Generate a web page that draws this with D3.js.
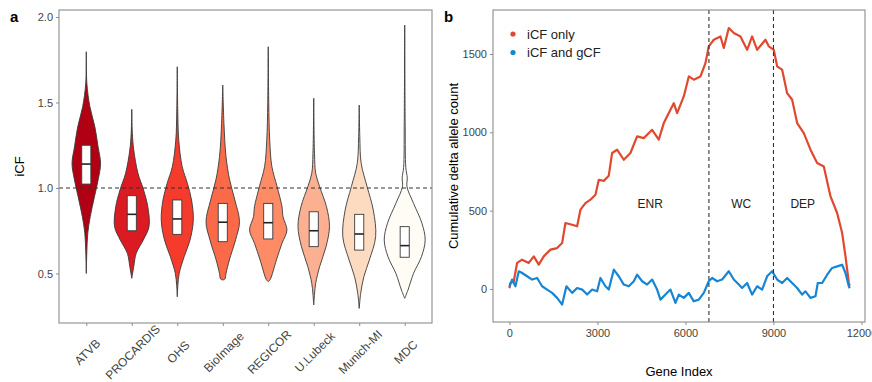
<!DOCTYPE html>
<html>
<head>
<meta charset="utf-8">
<script src="https://cdn.jsdelivr.net/npm/d3@7"></script>
<style>
  body { margin: 0; background: #fff; }
  text { font-family: "Liberation Sans", Arial, Helvetica, sans-serif; }
</style>
</head>
<body>
<svg id="chart" width="872" height="382"></svg>
<script>
// ---- panel a: violins ----
const sites = ['ATVB', 'PROCARDIS', 'OHS', 'BioImage', 'REGICOR', 'U.Lubeck', 'Munich-MI', 'MDC']
const siteColors = ['#B10013', '#DC1A22', '#F53B2C', '#FA6A48', '#FC8B66', '#FCB092', '#FDDBC0', '#FFFCF6']
// [q1, median, q3]
const boxStats = [
  [1.023, 1.14, 1.25],
  [0.75, 0.846, 0.955],
  [0.729, 0.819, 0.93],
  [0.686, 0.80, 0.91],
  [0.702, 0.797, 0.91],
  [0.657, 0.75, 0.861],
  [0.637, 0.731, 0.846],
  [0.595, 0.663, 0.774]
]
// [iCF, density]
const densATVB = [[0.50, 0], [0.62, 0.5], [0.735, 1.5], [0.832, 4], [0.949, 8.3], [1.047, 12], [1.144, 14.5], [1.24, 12], [1.358, 8.7], [1.475, 3.7], [1.61, 0.6], [1.797, 0]]
const densPROCARDIS = [[0.472, 0], [0.54, 2], [0.618, 4.5], [0.696, 11.7], [0.774, 17.5], [0.89, 16.3], [0.988, 12], [1.086, 6.3], [1.222, 2], [1.32, 0.6], [1.46, 0]]
const densOHS = [[0.364, 0], [0.43, 0.6], [0.501, 2], [0.598, 7], [0.696, 13], [0.813, 16.3], [0.93, 14.5], [1.027, 10.3], [1.125, 5], [1.28, 1.5], [1.45, 0.5], [1.709, 0]]
const densBioImage = [[0.462, 0], [0.468, 2.2], [0.50, 3.3], [0.579, 6.7], [0.696, 13], [0.803, 17], [0.93, 12.3], [1.047, 7], [1.183, 3.3], [1.378, 1.2], [1.602, 0]]
const densREGICOR = [[0.452, 0], [0.465, 2], [0.579, 8.3], [0.677, 14], [0.754, 19], [0.832, 15], [0.89, 14], [1.008, 9], [1.125, 3.7], [1.28, 1.5], [1.5, 0.5], [1.826, 0]]
const densULubeck = [[0.316, 0], [0.38, 0.8], [0.443, 2], [0.54, 6], [0.657, 12.5], [0.774, 16], [0.89, 13], [1.008, 6], [1.086, 2], [1.2, 0.8], [1.525, 0]]
const densMunich = [[0.296, 0], [0.384, 1.5], [0.481, 4.7], [0.579, 10.3], [0.715, 16.7], [0.871, 14.3], [1.008, 8], [1.144, 2], [1.3, 0.6], [1.485, 0]]
const densMDC = [[0.355, 0], [0.403, 3.3], [0.501, 9], [0.598, 17], [0.696, 20.8], [0.794, 17.5], [0.91, 9], [1.008, 2.3], [1.06, 2.6], [1.12, 1.1], [1.358, 0.5], [1.953, 0]]
const densities = [densATVB, densPROCARDIS, densOHS, densBioImage, densREGICOR, densULubeck, densMunich, densMDC]
const icfTicks = [0.5, 1.0, 1.5, 2.0]

// ---- panel b: cumulative counts, [gene index, count] ----
const iCFonly = [[0, 5], [34, 38], [148, 49], [261, 166], [432, 187], [659, 166], [830, 208], [1000, 155], [1170, 208], [1398, 251], [1625, 261], [1796, 293], [1909, 421], [2137, 410], [2307, 400], [2421, 506], [2591, 548], [2762, 570], [2932, 602], [3046, 697], [3216, 690], [3386, 723], [3500, 868], [3671, 889], [3898, 825], [4125, 868], [4352, 974], [4579, 963], [4864, 1016], [5091, 953], [5261, 1059], [5488, 1144], [5602, 1186], [5716, 1123], [5943, 1229], [6114, 1357], [6284, 1336], [6512, 1357], [6682, 1442], [6795, 1549], [6966, 1591], [7193, 1612], [7307, 1538], [7477, 1666], [7648, 1634], [7875, 1612], [8102, 1527], [8272, 1612], [8443, 1527], [8727, 1591], [8840, 1549], [9011, 1527], [9125, 1421], [9296, 1400], [9466, 1250], [9637, 1208], [9807, 1059], [10034, 995], [10262, 889], [10489, 804], [10716, 782], [10944, 591], [11170, 485], [11341, 357], [11455, 208], [11569, 38], [11600, 20]]
const iCFgCF = [[0, 17], [91, 60], [205, 17], [318, 113], [432, 102], [602, 81], [773, 60], [943, 70], [1114, 17], [1284, -4], [1455, -25], [1625, -57], [1796, -100], [1943, 17], [2137, -25], [2307, 6], [2478, -4], [2648, -36], [2819, -4], [2989, -15], [3102, 70], [3273, 17], [3386, -4], [3557, 123], [3727, 81], [3898, 28], [4068, 17], [4239, 49], [4352, 91], [4523, 49], [4693, 28], [4864, 60], [5034, -4], [5148, -68], [5318, -36], [5488, -4], [5659, -89], [5773, -36], [5943, -57], [6114, -25], [6284, -79], [6455, -68], [6625, -25], [6795, 49], [6909, 70], [7080, 49], [7250, 60], [7477, 113], [7648, 60], [7818, 28], [7932, 6], [8102, 38], [8272, -36], [8443, 17], [8613, -4], [8784, 81], [8954, 113], [9125, 60], [9296, 38], [9466, 70], [9637, 38], [9807, 6], [9977, -36], [10091, -15], [10262, -57], [10432, -47], [10511, 38], [10659, 38], [10830, 91], [11000, 134], [11170, 144], [11341, 155], [11455, 102], [11569, 17], [11600, 5]]
const regionBreaks = [6800, 9000]
const regionLabels = [['ENR', 4800], ['WC', 7900], ['DEP', 10000]]
const seriesNames = ['iCF only', 'iCF and gCF']
const seriesColors = ['#E1492F', '#1585D4']
const geneTicks = [0, 3000, 6000, 9000, 12000]
const countTicks = [0, 500, 1000, 1500]

const svg = d3.select('#chart')
const axisGrey = '#8c8c8c'
const tickText = '#444'

function styleAxis(g) {
  g.select('.domain').remove()
  g.selectAll('.tick line').attr('stroke', axisGrey)
  g.selectAll('.tick text').attr('fill', tickText).style('font-size', '11px')
}

// ===== panel a =====
const a = { left: 59, right: 432, top: 10, bottom: 323 }
const x = d3.scalePoint().domain(sites).range([a.left, a.right]).padding(0.6)
const y = d3.scaleLinear().domain([0.2105, 2.041]).range([a.bottom, a.top])
const step = x.step()
const wScale = d3.scaleLinear().domain([0, 20.8]).range([0, step * 0.45])

const ga = svg.append('g')

ga.append('g')
  .attr('transform', `translate(${a.left},0)`)
  .call(d3.axisLeft(y).tickValues(icfTicks).tickFormat(d3.format('.1f')).tickSize(3).tickPadding(3))
  .call(styleAxis)

ga.append('g')
  .attr('transform', `translate(0,${a.bottom})`)
  .call(d3.axisBottom(x).tickSize(3).tickFormat(''))
  .call(styleAxis)

// rotated site names, centred under each tick
ga.selectAll('.site-label')
  .data(sites)
  .enter()
  .append('text')
  .attr('class', 'site-label')
  .attr('transform', d => `translate(${x(d) + 1},${a.bottom + 29}) rotate(-45)`)
  .attr('text-anchor', 'middle')
  .attr('dy', '0.35em')
  .attr('fill', tickText)
  .style('font-size', '12px')
  .text(d => d)

const violinArea = d3.area()
  .curve(d3.curveCatmullRom)

sites.forEach((s, i) => {
  const cx = x(s)
  violinArea
    .x0(d => cx - wScale(d[1]))
    .x1(d => cx + wScale(d[1]))
    .y(d => y(d[0]))
  ga.append('path')
    .datum(densities[i])
    .attr('d', violinArea)
    .attr('fill', siteColors[i])
    .attr('stroke', '#3a3a3a')
    .attr('stroke-width', 0.9)

  const [q1, med, q3] = boxStats[i]
  const bw = step * 0.1
  ga.append('rect')
    .attr('x', cx - bw)
    .attr('width', bw * 2)
    .attr('y', y(q3))
    .attr('height', y(q1) - y(q3))
    .attr('fill', '#fff')
    .attr('stroke', '#3a3a3a')
    .attr('stroke-width', 0.9)
  ga.append('line')
    .attr('x1', cx - bw).attr('x2', cx + bw)
    .attr('y1', y(med)).attr('y2', y(med))
    .attr('stroke', '#222')
    .attr('stroke-width', 1.6)
})

ga.append('line')
  .attr('x1', a.left).attr('x2', a.right)
  .attr('y1', y(1)).attr('y2', y(1))
  .attr('stroke', '#333')
  .attr('stroke-width', 1.1)
  .attr('stroke-dasharray', '4,3')

ga.append('rect')
  .attr('x', a.left).attr('y', a.top)
  .attr('width', a.right - a.left).attr('height', a.bottom - a.top)
  .attr('fill', 'none')
  .attr('stroke', axisGrey)
  .attr('stroke-width', 1.1)

ga.append('text')
  .attr('transform', `translate(24,${(a.top + a.bottom) / 2}) rotate(-90)`)
  .attr('text-anchor', 'middle')
  .style('font-size', '13px')
  .text('iCF')

svg.append('text').attr('x', 10).attr('y', 22)
  .style('font-size', '15px').style('font-weight', 'bold').text('a')

// ===== panel b =====
const b = { left: 493, right: 865, top: 10, bottom: 322 }
const xb = d3.scaleLinear().domain([-560, 12120]).range([b.left, b.right])
const yb = d3.scaleLinear().domain([-211, 1781]).range([b.bottom, b.top])

const gb = svg.append('g')

gb.append('g')
  .attr('transform', `translate(${b.left},0)`)
  .call(d3.axisLeft(yb).tickValues(countTicks).tickFormat(d3.format('d')).tickSize(3).tickPadding(3))
  .call(styleAxis)

gb.append('g')
  .attr('transform', `translate(0,${b.bottom})`)
  .call(d3.axisBottom(xb).tickValues(geneTicks).tickFormat(d3.format('d')).tickSize(3).tickPadding(4))
  .call(styleAxis)

const line = d3.line()
  .x(d => xb(d[0]))
  .y(d => yb(d[1]))

;[iCFonly, iCFgCF].forEach((s, i) => {
  gb.append('path')
    .datum(s)
    .attr('d', line)
    .attr('fill', 'none')
    .attr('stroke', seriesColors[i])
    .attr('stroke-width', 2.2)
    .attr('stroke-linejoin', 'round')
})

gb.selectAll('.brk')
  .data(regionBreaks)
  .enter()
  .append('line')
  .attr('x1', d => xb(d)).attr('x2', d => xb(d))
  .attr('y1', b.top).attr('y2', b.bottom)
  .attr('stroke', '#333')
  .attr('stroke-width', 1.1)
  .attr('stroke-dasharray', '4,3')

gb.selectAll('.region')
  .data(regionLabels)
  .enter()
  .append('text')
  .attr('x', d => xb(d[1]))
  .attr('y', yb(520))
  .attr('text-anchor', 'middle')
  .style('font-size', '12px')
  .attr('fill', '#222')
  .text(d => d[0])

seriesNames.forEach((n, i) => {
  gb.append('circle')
    .attr('cx', 513).attr('cy', 34 + i * 18.5)
    .attr('r', 2.6)
    .attr('fill', seriesColors[i])
  gb.append('text')
    .attr('x', 527).attr('y', 38.5 + i * 18.5)
    .style('font-size', '13px')
    .attr('fill', '#222')
    .text(n)
})

gb.append('rect')
  .attr('x', b.left).attr('y', b.top)
  .attr('width', b.right - b.left).attr('height', b.bottom - b.top)
  .attr('fill', 'none')
  .attr('stroke', axisGrey)
  .attr('stroke-width', 1.1)

gb.append('text')
  .attr('transform', `translate(458,${(b.top + b.bottom) / 2}) rotate(-90)`)
  .attr('text-anchor', 'middle')
  .style('font-size', '13px')
  .text('Cumulative delta allele count')

gb.append('text')
  .attr('x', (b.left + b.right) / 2).attr('y', 376)
  .attr('text-anchor', 'middle')
  .style('font-size', '13px')
  .text('Gene Index')

svg.append('text').attr('x', 444).attr('y', 22)
  .style('font-size', '15px').style('font-weight', 'bold').text('b')
</script>
</body>
</html>
